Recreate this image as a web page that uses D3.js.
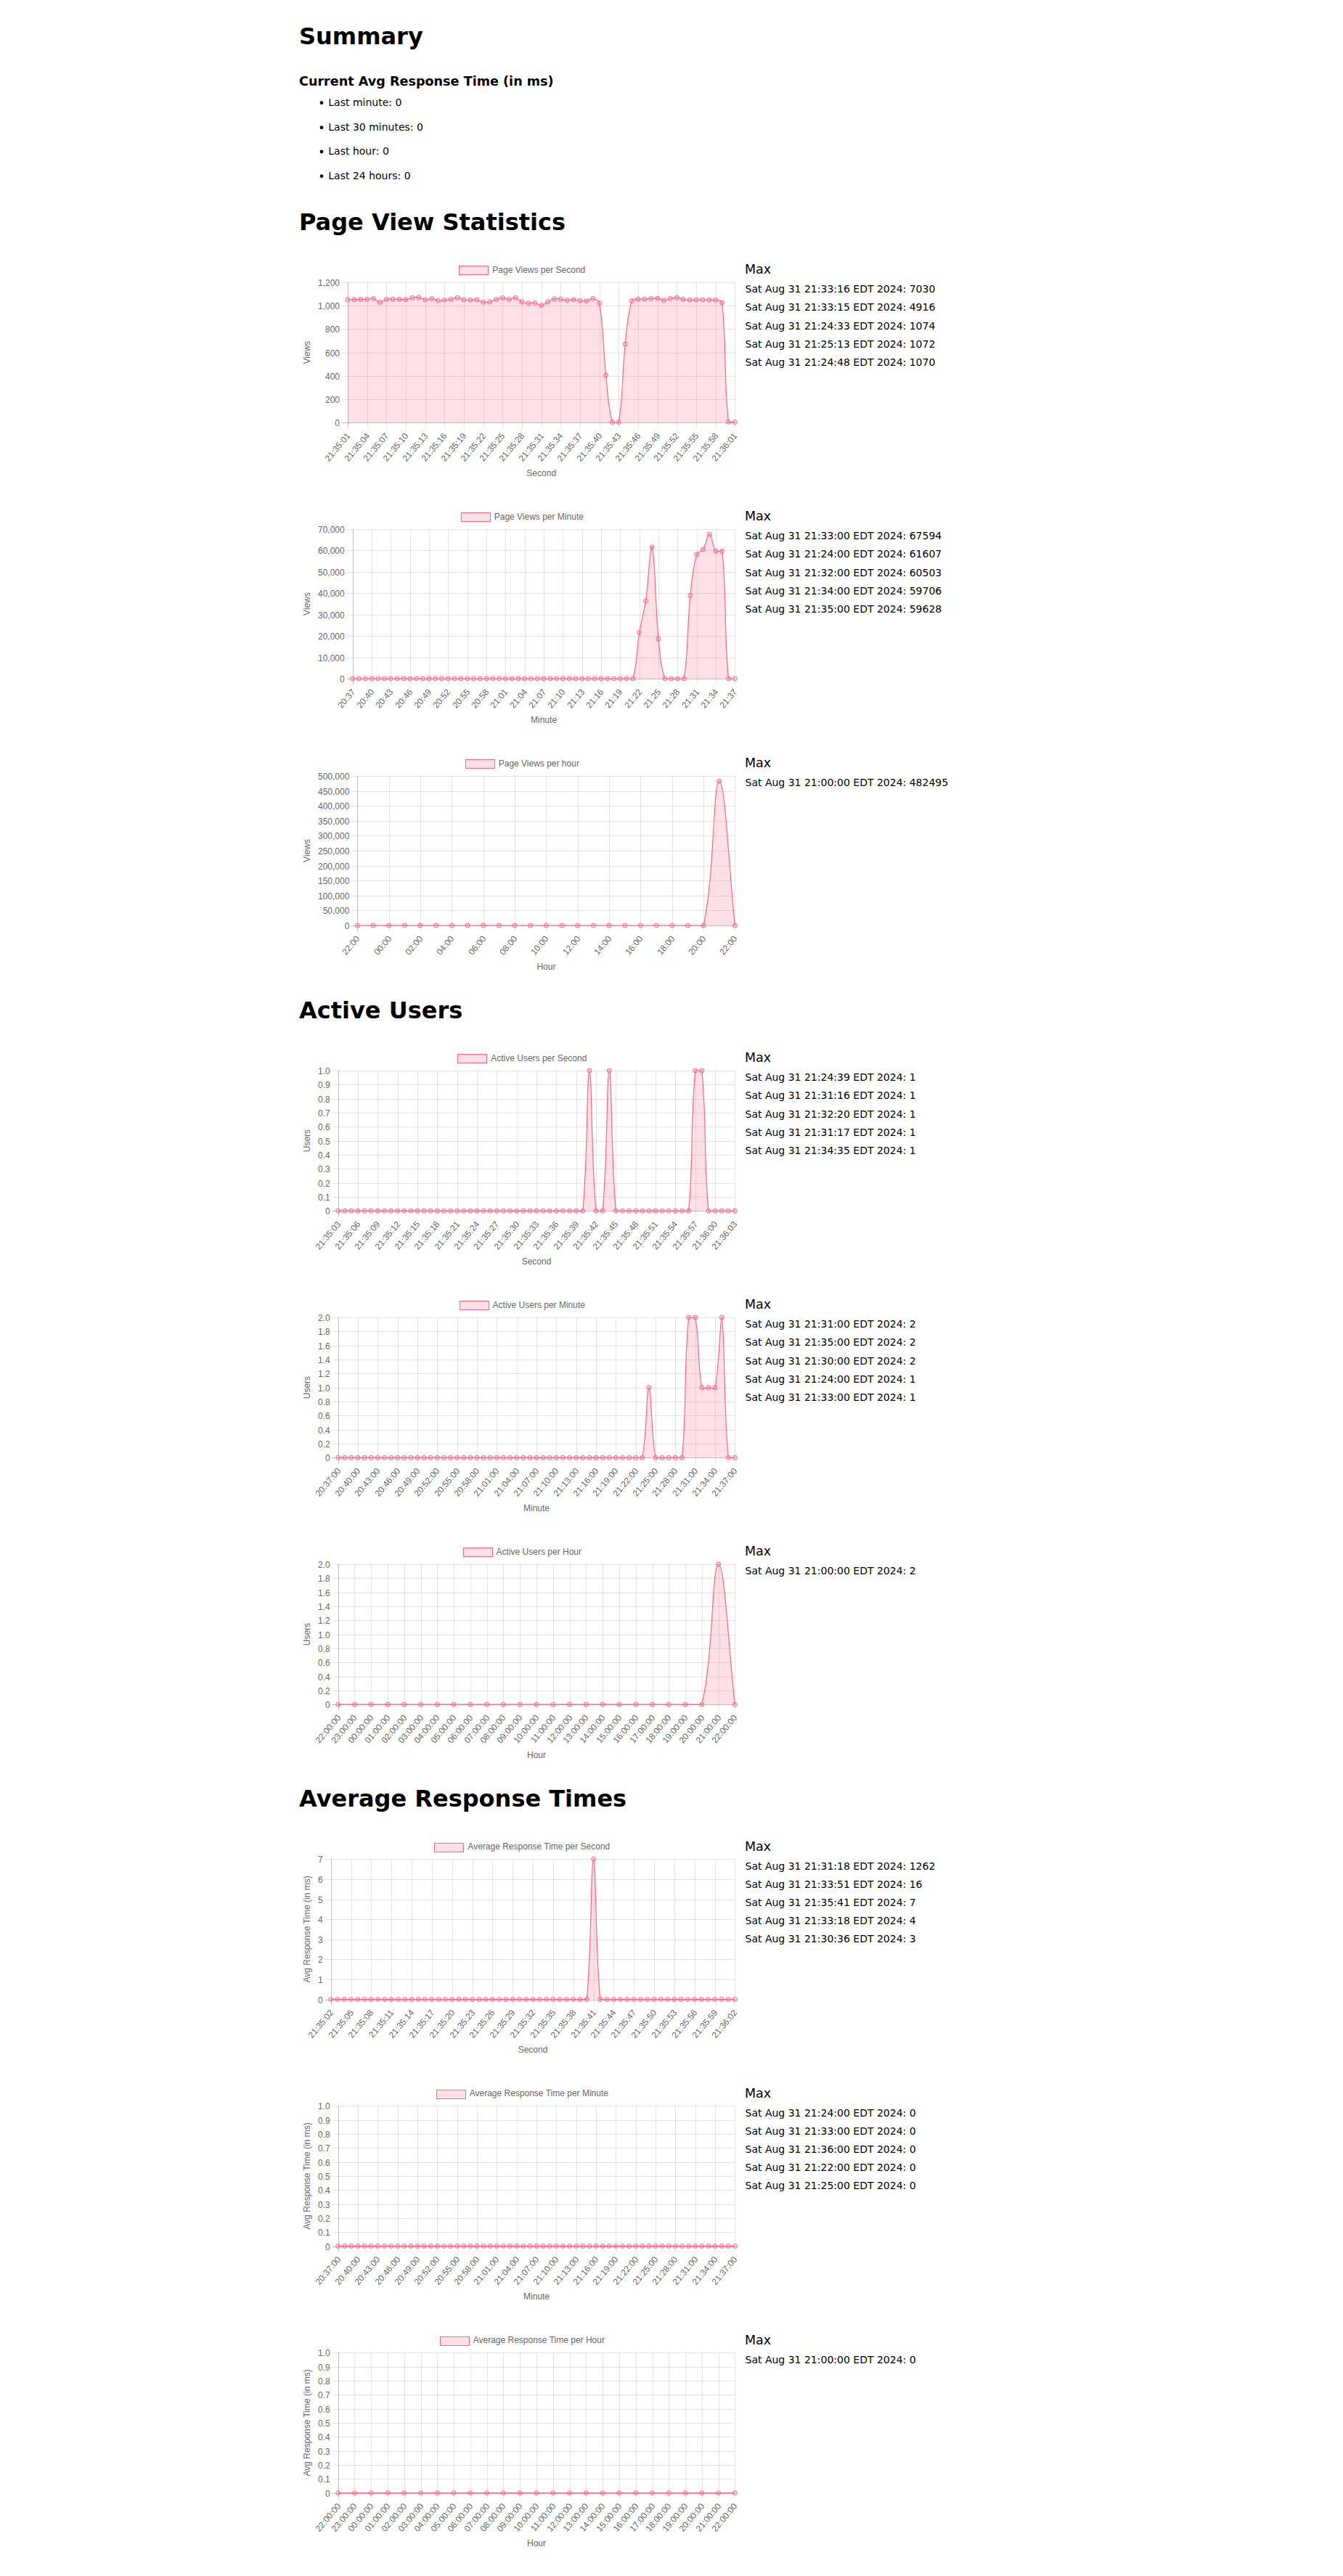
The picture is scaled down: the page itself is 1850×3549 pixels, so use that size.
<!DOCTYPE html>
<html>
<head>
<meta charset="utf-8">
<title>Statistics</title>
<script src="https://cdn.jsdelivr.net/npm/d3@7"></script>
<style>
  html, body { margin: 0; padding: 0; background: #fff; }
  svg { display: block; }
</style>
</head>
<body>
<svg id="page" width="1850" height="3549"></svg>
<script>
// ======================= DATA =======================
const SECONDS = ["21:35:00","21:35:01","21:35:02","21:35:03","21:35:04","21:35:05","21:35:06","21:35:07","21:35:08","21:35:09",
  "21:35:10","21:35:11","21:35:12","21:35:13","21:35:14","21:35:15","21:35:16","21:35:17","21:35:18","21:35:19",
  "21:35:20","21:35:21","21:35:22","21:35:23","21:35:24","21:35:25","21:35:26","21:35:27","21:35:28","21:35:29",
  "21:35:30","21:35:31","21:35:32","21:35:33","21:35:34","21:35:35","21:35:36","21:35:37","21:35:38","21:35:39",
  "21:35:40","21:35:41","21:35:42","21:35:43","21:35:44","21:35:45","21:35:46","21:35:47","21:35:48","21:35:49",
  "21:35:50","21:35:51","21:35:52","21:35:53","21:35:54","21:35:55","21:35:56","21:35:57","21:35:58","21:35:59",
  "21:36:00","21:36:01","21:36:02","21:36:03"];
const MINUTES = ["20:37","20:38","20:39","20:40","20:41","20:42","20:43","20:44","20:45","20:46","20:47","20:48",
  "20:49","20:50","20:51","20:52","20:53","20:54","20:55","20:56","20:57","20:58","20:59",
  "21:00","21:01","21:02","21:03","21:04","21:05","21:06","21:07","21:08","21:09","21:10","21:11","21:12",
  "21:13","21:14","21:15","21:16","21:17","21:18","21:19","21:20","21:21","21:22","21:23","21:24","21:25",
  "21:26","21:27","21:28","21:29","21:30","21:31","21:32","21:33","21:34","21:35","21:36","21:37"];
const HOURS = ["22:00","23:00","00:00","01:00","02:00","03:00","04:00","05:00","06:00","07:00","08:00","09:00",
  "10:00","11:00","12:00","13:00","14:00","15:00","16:00","17:00","18:00","19:00","20:00","21:00","22:00"];

const pvSecLabels  = SECONDS.slice(1, 62);   // 21:35:01 .. 21:36:01
const auSecLabels  = SECONDS.slice(3, 64);   // 21:35:03 .. 21:36:03
const artSecLabels = SECONDS.slice(2, 63);   // 21:35:02 .. 21:36:02
const minLabelsHMS  = MINUTES.map(m => m + ":00");
const hourLabelsHMS = HOURS.map(h => h + ":00");

const pvSec = [1051,1053,1055,1055,1061,1030,1055,1057,1055,1053,
  1068,1072,1051,1061,1045,1049,1055,1068,1051,1049,
  1051,1030,1034,1055,1068,1055,1068,1034,1022,1024,
  1005,1034,1059,1057,1047,1053,1043,1041,1061,1022,
  405,4,4,672,1041,1057,1057,1061,1063,1047,
  1061,1070,1055,1049,1051,1051,1049,1049,1026,6,4];
const pvMin = [0,0,0,0,0,0,0,0,0,0,0,0,0,0,0,
  0,0,0,0,0,0,0,0,0,0,0,0,0,0,0,
  0,0,0,0,0,0,0,0,0,0,0,0,0,0,0,
  21590,36480,61607,18640,0,0,0,0,38980,58180,60503,67594,59706,59628,0,0];
const pvHour = [0,0,0,0,0,0,0,0,0,0,0,0,0,0,0,0,0,0,0,0,0,0,0,482495,0];

const auSec = [0,0,0,0,0,0,0,0,0,0,0,0,0,0,0,
  0,0,0,0,0,0,0,0,0,0,0,0,0,0,0,
  0,0,0,0,0,0,0,0,1,0,0,1,0,0,0,
  0,0,0,0,0,0,0,0,0,1,1,0,0,0,0,0];
const auMin = [0,0,0,0,0,0,0,0,0,0,0,0,0,0,0,
  0,0,0,0,0,0,0,0,0,0,0,0,0,0,0,
  0,0,0,0,0,0,0,0,0,0,0,0,0,0,0,
  0,0,1,0,0,0,0,0,2,2,1,1,1,2,0,0];
const auHour = [0,0,0,0,0,0,0,0,0,0,0,0,0,0,0,0,0,0,0,0,0,0,0,2,0];

const artSec = [0,0,0,0,0,0,0,0,0,0,0,0,0,0,0,
  0,0,0,0,0,0,0,0,0,0,0,0,0,0,0,
  0,0,0,0,0,0,0,0,0,7,0,0,0,0,0,
  0,0,0,0,0,0,0,0,0,0,0,0,0,0,0,0];
const artMin = [0,0,0,0,0,0,0,0,0,0,0,0,0,0,0,
  0,0,0,0,0,0,0,0,0,0,0,0,0,0,0,
  0,0,0,0,0,0,0,0,0,0,0,0,0,0,0,
  0,0,0,0,0,0,0,0,0,0,0,0,0,0,0,0];
const artHour = [0,0,0,0,0,0,0,0,0,0,0,0,0,0,0,0,0,0,0,0,0,0,0,0,0];

const pvSecMax  = ["Sat Aug 31 21:33:16 EDT 2024: 7030","Sat Aug 31 21:33:15 EDT 2024: 4916",
  "Sat Aug 31 21:24:33 EDT 2024: 1074","Sat Aug 31 21:25:13 EDT 2024: 1072","Sat Aug 31 21:24:48 EDT 2024: 1070"];
const pvMinMax  = ["Sat Aug 31 21:33:00 EDT 2024: 67594","Sat Aug 31 21:24:00 EDT 2024: 61607",
  "Sat Aug 31 21:32:00 EDT 2024: 60503","Sat Aug 31 21:34:00 EDT 2024: 59706","Sat Aug 31 21:35:00 EDT 2024: 59628"];
const pvHourMax = ["Sat Aug 31 21:00:00 EDT 2024: 482495"];
const auSecMax  = ["Sat Aug 31 21:24:39 EDT 2024: 1","Sat Aug 31 21:31:16 EDT 2024: 1",
  "Sat Aug 31 21:32:20 EDT 2024: 1","Sat Aug 31 21:31:17 EDT 2024: 1","Sat Aug 31 21:34:35 EDT 2024: 1"];
const auMinMax  = ["Sat Aug 31 21:31:00 EDT 2024: 2","Sat Aug 31 21:35:00 EDT 2024: 2",
  "Sat Aug 31 21:30:00 EDT 2024: 2","Sat Aug 31 21:24:00 EDT 2024: 1","Sat Aug 31 21:33:00 EDT 2024: 1"];
const auHourMax = ["Sat Aug 31 21:00:00 EDT 2024: 2"];
const artSecMax = ["Sat Aug 31 21:31:18 EDT 2024: 1262","Sat Aug 31 21:33:51 EDT 2024: 16",
  "Sat Aug 31 21:35:41 EDT 2024: 7","Sat Aug 31 21:33:18 EDT 2024: 4","Sat Aug 31 21:30:36 EDT 2024: 3"];
const artMinMax = ["Sat Aug 31 21:24:00 EDT 2024: 0","Sat Aug 31 21:33:00 EDT 2024: 0",
  "Sat Aug 31 21:36:00 EDT 2024: 0","Sat Aug 31 21:22:00 EDT 2024: 0","Sat Aug 31 21:25:00 EDT 2024: 0"];
const artHourMax = ["Sat Aug 31 21:00:00 EDT 2024: 0"];

const summaryItems = ["Last minute: 0","Last 30 minutes: 0","Last hour: 0","Last 24 hours: 0"];
const sectionTitles = ["Page View Statistics","Active Users","Average Response Times"];

const charts = [
  {legend:"Page Views per Second", yTitle:"Views", xTitle:"Second", labels:pvSecLabels, values:pvSec, yMax:1200, yStep:200, dec:false, skip:3, max:pvSecMax},
  {legend:"Page Views per Minute", yTitle:"Views", xTitle:"Minute", labels:MINUTES, values:pvMin, yMax:70000, yStep:10000, dec:false, skip:3, max:pvMinMax},
  {legend:"Page Views per hour", yTitle:"Views", xTitle:"Hour", labels:HOURS, values:pvHour, yMax:500000, yStep:50000, dec:false, skip:2, max:pvHourMax},
  {legend:"Active Users per Second", yTitle:"Users", xTitle:"Second", labels:auSecLabels, values:auSec, yMax:1, yStep:0.1, dec:true, skip:3, max:auSecMax},
  {legend:"Active Users per Minute", yTitle:"Users", xTitle:"Minute", labels:minLabelsHMS, values:auMin, yMax:2, yStep:0.2, dec:true, skip:3, max:auMinMax},
  {legend:"Active Users per Hour", yTitle:"Users", xTitle:"Hour", labels:hourLabelsHMS, values:auHour, yMax:2, yStep:0.2, dec:true, skip:1, max:auHourMax},
  {legend:"Average Response Time per Second", yTitle:"Avg Response Time (in ms)", xTitle:"Second", labels:artSecLabels, values:artSec, yMax:7, yStep:1, dec:false, skip:3, max:artSecMax},
  {legend:"Average Response Time per Minute", yTitle:"Avg Response Time (in ms)", xTitle:"Minute", labels:minLabelsHMS, values:artMin, yMax:1, yStep:0.1, dec:true, skip:3, max:artMinMax},
  {legend:"Average Response Time per Hour", yTitle:"Avg Response Time (in ms)", xTitle:"Hour", labels:hourLabelsHMS, values:artHour, yMax:1, yStep:0.1, dec:true, skip:1, max:artHourMax}
];

// ======================= LAYOUT =======================
const LEGEND_Y = [371.7, 711.7, 1051.7, 1457.7, 1797.7, 2137.7, 2544, 2884, 3224];
const SECTION_Y = [316.7, 1402.7, 2489];
const CONTENT_X = 412;
const PLOT_RIGHT = 1012.4;
const Y_BASE = 449;          // plot left = Y_BASE + widest y label
const Y_TITLE_X = 422.7;
const LEGEND_CX = 719.3;
const MAX_X = 1026;

const CH_FONT = "'Liberation Sans', Arial, Helvetica, sans-serif";
const PAGE_FONT = "'DejaVu Sans', sans-serif";
const RED = "rgb(255, 99, 132)";
const RED_FILL = "rgba(255, 99, 132, 0.2)";
const GRID = "rgba(0, 0, 0, 0.1)";
const ZERO = "rgba(0, 0, 0, 0.25)";
const TXT = "#666";
const SIN50 = Math.sin(50 * Math.PI / 180);

const svg = d3.select("#page");
svg.append("rect").attr("width", 1850).attr("height", 3549).attr("fill", "#fff");

function textWidth(str, size, family) {
  const t = svg.append("text").attr("font-family", family).attr("font-size", size).text(str);
  const w = t.node().getComputedTextLength();
  t.remove();
  return w;
}

// ---------- Summary ----------
svg.append("text").attr("x", CONTENT_X).attr("y", 60.7)
  .attr("font-family", PAGE_FONT).attr("font-weight", "bold").attr("font-size", 32).attr("fill", "#000")
  .text("Summary");
svg.append("text").attr("x", CONTENT_X).attr("y", 118.3)
  .attr("font-family", PAGE_FONT).attr("font-weight", "bold").attr("font-size", 17.6).attr("fill", "#000")
  .text("Current Avg Response Time (in ms)");
const listY = [146, 180, 213.3, 247];
summaryItems.forEach((s, i) => {
  svg.append("circle").attr("cx", 443).attr("cy", listY[i] - 4.3).attr("r", 2.4).attr("fill", "#000");
  svg.append("text").attr("x", 452.3).attr("y", listY[i])
    .attr("font-family", PAGE_FONT).attr("font-size", 14).attr("fill", "#000").text(s);
});
sectionTitles.forEach((s, i) => {
  svg.append("text").attr("x", CONTENT_X).attr("y", SECTION_Y[i])
    .attr("font-family", PAGE_FONT).attr("font-weight", "bold").attr("font-size", 32).attr("fill", "#000")
    .text(s);
});

// ---------- Chart.js-like spline (tension 0.4, capped to chart area) ----------
function splinePath(pts, tension, area, closeY) {
  const n = pts.length;
  const clamp = (p) => [Math.max(area.left, Math.min(area.right, p[0])), Math.max(area.top, Math.min(area.bottom, p[1]))];
  const cps = pts.map((p, i) => {
    const prev = pts[Math.max(0, i - 1)], next = pts[Math.min(n - 1, i + 1)];
    const d01 = Math.hypot(p[0] - prev[0], p[1] - prev[1]);
    const d12 = Math.hypot(next[0] - p[0], next[1] - p[1]);
    let s01 = d01 / (d01 + d12), s12 = d12 / (d01 + d12);
    if (!isFinite(s01)) s01 = 0;
    if (!isFinite(s12)) s12 = 0;
    const fa = tension * s01, fb = tension * s12;
    const c1 = [p[0] - fa * (next[0] - prev[0]), p[1] - fa * (next[1] - prev[1])];
    const c2 = [p[0] + fb * (next[0] - prev[0]), p[1] + fb * (next[1] - prev[1])];
    return [clamp(c1), clamp(c2)];
  });
  const path = d3.path();
  path.moveTo(pts[0][0], pts[0][1]);
  for (let i = 1; i < n; i++) {
    path.bezierCurveTo(cps[i - 1][1][0], cps[i - 1][1][1], cps[i][0][0], cps[i][0][1], pts[i][0], pts[i][1]);
  }
  if (closeY !== undefined) {
    path.lineTo(pts[n - 1][0], closeY);
    path.lineTo(pts[0][0], closeY);
    path.closePath();
  }
  return path.toString();
}

// ---------- Charts ----------
function drawChart(cfg, lc) {
  const n = cfg.labels.length;
  const steps = Math.round(cfg.yMax / cfg.yStep);
  const yTicks = d3.range(0, steps + 1).map(k => +(k * cfg.yStep).toFixed(6));
  const fmt = cfg.dec ? (v => v === 0 ? "0" : d3.format(".1f")(v)) : d3.format(",");
  const maxYW = d3.max(yTicks, v => textWidth(fmt(v), 12, CH_FONT));
  const shown = d3.range(0, n, cfg.skip);
  const maxXW = d3.max(shown, i => textWidth(cfg.labels[i], 12, CH_FONT));

  const left = Y_BASE + maxYW;
  const right = PLOT_RIGHT;
  const top = lc + 17.3;
  const titleY = lc + 280;
  const bottom = titleY - 33.7 - maxXW * SIN50;

  const x = d3.scalePoint().domain(d3.range(n)).range([left, right]);
  const y = d3.scaleLinear().domain([0, cfg.yMax]).range([bottom, top]);

  const g = svg.append("g");

  // y axis with gridlines
  const yAxis = d3.axisLeft(y).tickValues(yTicks).tickFormat(fmt)
    .tickSizeInner(-(right - left + 8)).tickSizeOuter(0).tickPadding(3);
  const ya = g.append("g").attr("transform", `translate(${left - 8},0)`).call(yAxis);
  ya.select(".domain").remove();
  ya.selectAll(".tick").attr("transform", d => `translate(0,${Math.round(y(d)) + 0.5})`);
  ya.selectAll(".tick line").attr("stroke", d => d === 0 ? ZERO : GRID).attr("stroke-width", 1);
  ya.selectAll(".tick text").attr("dy", null).attr("dominant-baseline", "central")
    .attr("fill", TXT).attr("font-family", CH_FONT).attr("font-size", 12);
  ya.attr("font-family", CH_FONT).attr("font-size", 12);

  // x axis with gridlines
  const xAxis = d3.axisBottom(x).tickValues(shown).tickFormat(i => cfg.labels[i])
    .tickSizeInner(bottom - top + 8).tickSizeOuter(0).tickPadding(3);
  const xa = g.append("g").attr("transform", `translate(0,${top})`).call(xAxis);
  xa.select(".domain").remove();
  xa.selectAll(".tick").attr("transform", d => `translate(${Math.round(x(d)) + 0.5},0)`);
  xa.selectAll(".tick line").attr("stroke", d => d === 0 ? ZERO : GRID).attr("stroke-width", 1);
  xa.selectAll(".tick text")
    .attr("y", null).attr("dy", null).attr("x", null)
    .attr("transform", `translate(0.5,${bottom - top + 16}) rotate(-50)`)
    .attr("text-anchor", "end").attr("dominant-baseline", "central")
    .attr("fill", TXT).attr("font-family", CH_FONT).attr("font-size", 12);
  xa.attr("font-family", CH_FONT).attr("font-size", 12);

  // data: fill + line + points
  const pts = cfg.values.map((v, i) => [x(i), y(v)]);
  const area = {left, right, top, bottom};
  g.append("path").attr("d", splinePath(pts, 0.4, area, y(0)))
    .attr("fill", RED_FILL).attr("stroke", "none");
  g.append("path").attr("d", splinePath(pts, 0.4, area))
    .attr("fill", "none").attr("stroke", RED).attr("stroke-width", 1.2);
  g.append("g").selectAll("circle").data(cfg.values).join("circle")
    .attr("cx", (v, i) => x(i)).attr("cy", v => y(v)).attr("r", 3)
    .attr("fill", RED_FILL).attr("stroke", RED).attr("stroke-width", 1);

  // legend
  const lw = textWidth(cfg.legend, 12, CH_FONT);
  const lx = LEGEND_CX - (46 + lw) / 2;
  g.append("rect").attr("x", Math.round(lx) + 0.5).attr("y", Math.round(lc - 5.5) + 0.5)
    .attr("width", 40).attr("height", 12)
    .attr("fill", RED_FILL).attr("stroke", RED).attr("stroke-width", 1);
  g.append("text").attr("x", lx + 46).attr("y", lc).attr("dominant-baseline", "central")
    .attr("font-family", CH_FONT).attr("font-size", 12).attr("fill", TXT).text(cfg.legend);

  // axis titles
  g.append("text").attr("transform", `translate(${Y_TITLE_X},${(top + bottom) / 2}) rotate(-90)`)
    .attr("text-anchor", "middle").attr("dominant-baseline", "central")
    .attr("font-family", CH_FONT).attr("font-size", 12).attr("fill", TXT).text(cfg.yTitle);
  g.append("text").attr("x", (left + right) / 2).attr("y", titleY)
    .attr("text-anchor", "middle").attr("dominant-baseline", "central")
    .attr("font-family", CH_FONT).attr("font-size", 12).attr("fill", TXT).text(cfg.xTitle);

  // Max list
  g.append("text").attr("x", MAX_X).attr("y", lc + 5.6)
    .attr("font-family", PAGE_FONT).attr("font-size", 17.5).attr("fill", "#000").text("Max");
  g.append("g").selectAll("text").data(cfg.max).join("text")
    .attr("x", MAX_X + 0.5).attr("y", (d, i) => lc + 31.6 + i * 25.17)
    .attr("font-family", PAGE_FONT).attr("font-size", 14).attr("fill", "#000").text(d => d);
}

charts.forEach((c, i) => drawChart(c, LEGEND_Y[i]));
</script>
</body>
</html>
